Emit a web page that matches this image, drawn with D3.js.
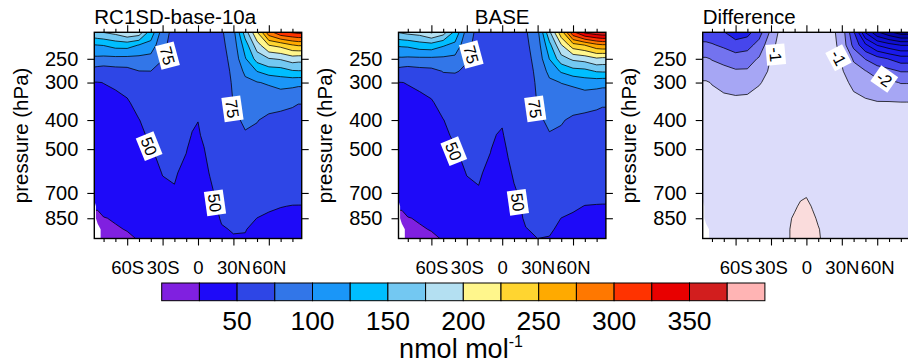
<!DOCTYPE html>
<html>
<head>
<meta charset="utf-8">
<script src="https://cdn.jsdelivr.net/npm/d3@7"></script>
<style>
  body { margin: 0; background: #fff; }
  text { font-family: "Liberation Sans", Arial, Helvetica, sans-serif; fill: #000; }
</style>
</head>
<body>
<svg id="chart" width="908" height="364"></svg>
<script>
// grid: one column per latitude, one value per pressure level (top to bottom)
const lats = [-88, -85, -80, -70, -60, -50, -40, -30, -20, -10, -5, 0, 5, 10, 20, 30, 40, 50, 60, 70, 80, 85, 88];
const levels = [200, 225, 250, 275, 300, 350, 400, 450, 500, 600, 700, 775, 850, 925, 1000];

const rc1sdO3 = [
  [178, 124, 94, 65, 49.3, 45.7, 43, 41, 39, 35, 30, NaN, NaN, NaN, NaN],
  [181, 125, 94, 63, 49.5, 45.7, 43, 41, 39, 35, 30, 26, 23, NaN, NaN],
  [185, 126, 93, 61, 50.2, 45.7, 43, 41, 39, 36, 32, 29, 24.5, 21, 19],
  [192, 134, 93, 65, 52.3, 45.7, 44, 42, 40, 37, 33, 30, 26, 24, 22],
  [210, 135, 92.6, 66.7, 57.1, 47.7, 45, 43, 41, 38, 35, 32, 29, 25.5, 23],
  [204, 124, 92.7, 74.6, 65.1, 56.6, 49.5, 46, 44, 40, 37, 33, 30, 27, 25.5],
  [148, 115, 91, 74.9, 69.3, 61.6, 57, 53, 49, 45, 41, 38, 35, 32, 30],
  [90, 81, 75.3, 72.4, 68.4, 63.6, 60, 57, 55, 50.5, 47, 44, 41, 38, 36],
  [65.5, 64.6, 63.7, 62.7, 61.7, 59.7, 57.7, 55.7, 53.7, 51.2, 49, 45, 42, 40, 38],
  [63.7, 62.7, 61.7, 60.7, 59.7, 57.7, 54.7, 52.5, 50.6, 47, 44, 42, 40, 38, 36],
  [62.7, 61.7, 60.7, 59.7, 57.7, 54.7, 51.5, 49.5, 47, 44, 42, 40, 38, 36, 34],
  [61.7, 60.7, 59.7, 57.7, 55.7, 52.5, 50.2, 48.5, 46, 43, 41, 39, 37, 35, 33],
  [61.7, 60.7, 59.7, 58.7, 57.7, 55.7, 54, 52, 49.5, 47, 44, 42, 40, 38, 36],
  [62.7, 61.7, 60.7, 59.7, 59.7, 57.7, 56.7, 55.5, 54.5, 50.5, 47.5, 46, 44, 42, 40],
  [72.5, 69.6, 67.7, 65.7, 64.7, 62.7, 60.7, 59.7, 58.7, 56.7, 54.7, 52.7, 51.2, 49, 47.5],
  [93.7, 86.9, 82.1, 79.3, 77.4, 75.5, 71.6, 67.7, 65.7, 61.7, 57.7, 55.7, 53.7, 50.8, 49],
  [168, 137.3, 122.5, 105.2, 93.9, 84.3, 77.5, 73.6, 70.6, 65.7, 61.7, 58.7, 55.7, 50.5, 49],
  [231, 188.5, 160, 125.5, 98.5, 85.3, 75.5, 72.6, 69.6, 64.7, 59.7, 56.7, 49.8, 46.8, 44.8],
  [303.5, 225.6, 173.5, 136.5, 103.2, 79.2, 72.5, 69.6, 66.7, 62.7, 57.7, 52.7, 47, 44.8, 42.8],
  [337, 233.5, 177.6, 138.2, 110, 78.2, 71.5, 68.7, 66.7, 62.7, 56.7, 50.5, 46, 44, 42],
  [342.8, 249.2, 187.2, 147.4, 107.8, 76.3, 71.5, 68.7, 66.7, 61.7, 55.7, 49.5, 46, 43, 41],
  [346.3, 253, 184.3, 148.4, 105.8, 75.3, 71.5, 68.7, 66.7, 61.7, 55, 49.5, 45, 42, 40],
  [346.3, 253, 184.3, 148.4, 105.8, 75.3, 71.5, 68.7, 66.7, 61.7, 55, 49.5, 45, 42, 40]
];

const baseO3 = [
  [185, 128, 96, 66, 49.5, 46, 43, 41, 39, 35, 30, NaN, NaN, NaN, NaN],
  [188, 129, 96, 64, 49.8, 46, 43, 41, 39, 35, 30, 26, 23, NaN, NaN],
  [192, 130, 95, 62, 50.5, 46, 43, 41, 39, 36, 32, 29, 24.5, 21, 19],
  [195, 138, 95, 66, 53, 46, 44, 42, 40, 37, 33, 30, 26, 24, 22],
  [215, 140, 95, 68, 58, 48, 45, 43, 41, 38, 35, 32, 29, 25.5, 23],
  [198, 128, 95, 76, 66, 57, 49.5, 46, 44, 40, 37, 33, 30, 27, 25.5],
  [152, 118, 93, 76, 70, 62, 57, 53, 49, 45, 41, 38, 35, 32, 30],
  [92, 82, 76, 73, 69, 64, 60, 57, 55, 50.5, 47, 44, 41, 38, 36],
  [66, 65, 64, 63, 62, 60, 58, 56, 54, 51.5, 49, 45, 42, 40, 38],
  [64, 63, 62, 61, 60, 58, 55, 53, 50.5, 47, 44, 42, 40, 38, 36],
  [63, 62, 61, 60, 58, 55, 52, 49.9, 47, 44, 42, 40, 38, 36, 34],
  [62, 61, 60, 58, 56, 53, 51, 49, 46, 43, 41, 39, 37, 35, 33],
  [62, 61, 60, 59, 58, 56, 55, 53, 51.5, 47, 44, 42, 40, 38, 36],
  [63, 62, 61, 60, 60, 58, 57, 56, 55, 52, 48, 46, 44, 42, 40],
  [73, 70, 68, 66, 65, 63, 61, 60, 59, 57, 55, 53, 52, 49.5, 48],
  [95, 88, 83, 80, 78, 76, 72, 68, 66, 62, 58, 56, 54, 52, 49.8],
  [176, 142, 125.5, 107, 95, 85, 78, 74, 71, 66, 62, 59, 56, 52, 49],
  [251, 198, 165, 128, 100.5, 86, 76, 73, 70, 65, 60, 57, 49.8, 47, 45],
  [335, 240, 180, 140, 105, 80, 73, 70, 67, 63, 58, 53, 47, 45, 43],
  [376, 250.5, 185, 142, 112, 79, 72, 69, 67, 63, 57, 49.5, 46, 44, 42],
  [386, 268, 196, 152, 110, 77, 72, 69, 67, 62, 56, 49, 46, 43, 41],
  [390, 272, 193, 153, 108, 76, 72, 69, 67, 62, 55, 49, 45, 42, 40],
  [390, 272, 193, 153, 108, 76, 72, 69, 67, 62, 55, 49, 45, 42, 40]
];

const diffO3 = [
  [-3.7, -2.8, -1.9, -1.5, -0.9, -0.6, -0.5, -0.4, -0.4, -0.4, -0.4, NaN, NaN, NaN, NaN],
  [-3.7, -2.8, -1.9, -1.5, -0.9, -0.6, -0.5, -0.4, -0.4, -0.4, -0.4, -0.4, -0.4, NaN, NaN],
  [-3.8, -2.9, -2.05, -1.6, -1.05, -0.6, -0.5, -0.4, -0.4, -0.4, -0.4, -0.4, -0.4, -0.4, -0.4],
  [-4.1, -3.2, -2.2, -1.8, -1.3, -0.7, -0.5, -0.5, -0.4, -0.4, -0.4, -0.4, -0.4, -0.4, -0.4],
  [-4.7, -3.6, -2.5, -1.9, -1.5, -0.7, -0.5, -0.5, -0.5, -0.4, -0.4, -0.4, -0.4, -0.4, -0.4],
  [-4.5, -3.4, -2.4, -1.9, -1.4, -0.7, -0.5, -0.5, -0.5, -0.5, -0.4, -0.4, -0.4, -0.4, -0.4],
  [-3.6, -2.6, -1.9, -1.5, -1.05, -0.7, -0.5, -0.5, -0.5, -0.5, -0.5, -0.4, -0.4, -0.4, -0.4],
  [-1.9, -1.3, -0.95, -0.8, -0.8, -0.6, -0.5, -0.5, -0.5, -0.5, -0.5, -0.4, -0.4, -0.4, -0.3],
  [-0.5, -0.5, -0.5, -0.5, -0.5, -0.5, -0.5, -0.5, -0.5, -0.5, -0.4, -0.4, -0.3, -0.3, -0.3],
  [-0.5, -0.5, -0.5, -0.5, -0.5, -0.5, -0.5, -0.5, -0.5, -0.5, -0.4, -0.1, 0.1, 0.2, 0.2],
  [-0.5, -0.5, -0.5, -0.5, -0.5, -0.5, -0.5, -0.5, -0.4, -0.3, -0.15, 0.1, 0.25, 0.3, 0.3],
  [-0.5, -0.5, -0.5, -0.5, -0.5, -0.5, -0.5, -0.5, -0.4, -0.25, -0.1, 0.2, 0.3, 0.3, 0.3],
  [-0.5, -0.5, -0.5, -0.5, -0.5, -0.5, -0.5, -0.5, -0.5, -0.4, -0.3, -0.05, 0.15, 0.25, 0.25],
  [-0.5, -0.5, -0.5, -0.5, -0.5, -0.5, -0.5, -0.5, -0.5, -0.4, -0.4, -0.3, -0.1, 0.05, 0.1],
  [-0.7, -0.6, -0.5, -0.5, -0.5, -0.5, -0.5, -0.5, -0.5, -0.5, -0.5, -0.4, -0.4, -0.4, -0.4],
  [-1.4, -1.3, -1.1, -0.9, -0.8, -0.6, -0.5, -0.5, -0.5, -0.5, -0.5, -0.5, -0.4, -0.4, -0.4],
  [-4.05, -3.3, -2.1, -1.7, -1.15, -0.8, -0.6, -0.5, -0.5, -0.5, -0.5, -0.5, -0.5, -0.4, -0.4],
  [-7.5, -4.8, -3.05, -1.95, -1.5, -0.85, -0.65, -0.5, -0.5, -0.5, -0.5, -0.5, -0.5, -0.4, -0.4],
  [-9.4, -6.05, -3.6, -2.5, -1.7, -0.95, -0.7, -0.6, -0.5, -0.5, -0.5, -0.5, -0.5, -0.4, -0.4],
  [-10.4, -6.6, -4.05, -2.7, -1.8, -0.95, -0.7, -0.6, -0.5, -0.5, -0.5, -0.5, -0.5, -0.4, -0.4],
  [-11.2, -7.05, -4.5, -3.05, -2.05, -0.97, -0.7, -0.6, -0.5, -0.5, -0.5, -0.5, -0.5, -0.4, -0.4],
  [-11.2, -7.05, -4.5, -3.05, -2.05, -0.97, -0.7, -0.6, -0.5, -0.5, -0.5, -0.5, -0.5, -0.4, -0.4],
  [-11.2, -7.05, -4.5, -3.05, -2.05, -0.97, -0.7, -0.6, -0.5, -0.5, -0.5, -0.5, -0.5, -0.4, -0.4]
];

const o3Levels = [25, 50, 75, 100, 125, 150, 175, 200, 225, 250, 275, 300, 325, 350, 375];
const o3Colors = ["#8020E0", "#1E0AF8", "#2E46E6", "#3276E8", "#1A96F8", "#00BEFF", "#73C8F2", "#B4E0F2",
  "#FFF68C", "#FFD530", "#FFAA00", "#FF7800", "#FF3300", "#E80000", "#D21E1E", "#FFB4B4"];
const diffLevels = [-11, -10, -9, -8, -7, -6, -5, -4, -3, -2, -1, 0, 1, 2];
const diffColors = ["#000070", "#00008C", "#0505A5", "#0A0ABE", "#0F0FD2", "#1414E1", "#1A1AEB", "#1E1EE8",
  "#4646EC", "#7373EF", "#A6A6F4", "#DCDCFA", "#FADCDC", "#F5A6A6", "#F07373"];

const rc1sdLabels = [
  {lat: -25.8, p: 244, text: "75", angle: 75}, {lat: 29.2, p: 367, text: "75", angle: 82},
  {lat: -41.4, p: 489, text: "50", angle: 68}, {lat: 14.4, p: 755, text: "50", angle: 82}
];
const baseLabels = [
  {lat: -26.2, p: 242, text: "75", angle: 75}, {lat: 28, p: 367, text: "75", angle: 82},
  {lat: -41, p: 508, text: "50", angle: 68}, {lat: 13.3, p: 752, text: "50", angle: 82}
];
const diffLabels = [
  {lat: -26, p: 242, text: "-1", angle: 85}, {lat: 27.2, p: 248, text: "-1", angle: 62},
  {lat: 66, p: 292, text: "-2", angle: 35}
];

const latTicks = [-60, -30, 0, 30, 60];
const latTickLabels = ["60S", "30S", "0", "30N", "60N"];
const latMinor = [-80, -70, -50, -40, -20, -10, 10, 20, 40, 50, 70, 80];
const pTicks = [250, 300, 400, 500, 700, 850];
const cbLabels = [50, 100, 150, 200, 250, 300, 350];

const svg = d3.select("#chart");
const W = 207.4, TOP = 32.3, H = 206.2;
const panelLeft = [94.3, 398.5, 702.7];
const nx = lats.length, ny = levels.length;

// grid coordinate -> lat / pressure (d3.contours puts sample i at i + 0.5)
const latOf = d3.scaleLinear().domain(lats.map((d, i) => i + 0.5)).range(lats);
const pOf = d3.scaleLinear().domain(levels.map((d, i) => i + 0.5)).range(levels);

// row-major values; a missing cell borrows the next valid value in its row, the mask hides it later
function gridValues(cols) {
  const v = [];
  for (let j = 0; j < ny; j++) {
    for (let i = 0; i < nx; i++) {
      let k = i;
      while (Number.isNaN(cols[k][j])) k++;
      v.push(cols[k][j]);
    }
  }
  return v;
}
function missingMask(cols) {
  const v = [];
  for (let j = 0; j < ny; j++)
    for (let i = 0; i < nx; i++) v.push(Number.isNaN(cols[i][j]) ? 1 : 0);
  return v;
}

const panels = [
  {title: "RC1SD-base-10a", anchor: "start", cols: rc1sdO3, thresholds: o3Levels, colors: o3Colors, labels: rc1sdLabels},
  {title: "BASE", anchor: "middle", cols: baseO3, thresholds: o3Levels, colors: o3Colors, labels: baseLabels},
  {title: "Difference", anchor: "start", cols: diffO3, thresholds: diffLevels, colors: diffColors, labels: diffLabels}
];

panels.forEach((pn, k) => {
  const g = svg.append("g").attr("transform", `translate(${panelLeft[k]},0)`);
  const x = d3.scaleLinear().domain([-87.86, 87.86]).range([0, W]);
  const y = d3.scaleLog().domain([204, 993]).range([TOP, TOP + H]);
  const path = d3.geoPath(d3.geoTransform({
    point(gx, gy) { this.stream.point(x(latOf(gx)), y(pOf(gy))); }
  }));

  g.append("clipPath").attr("id", "clip" + k)
    .append("rect").attr("x", 0).attr("y", TOP).attr("width", W).attr("height", H);
  const field = g.append("g").attr("clip-path", `url(#clip${k})`);

  const contours = d3.contours().size([nx, ny])
    .thresholds([-1e9, ...pn.thresholds])(gridValues(pn.cols));

  field.selectAll("path.band").data(contours).join("path")
    .attr("class", "band")
    .attr("d", path)
    .attr("fill", (d, i) => pn.colors[i])
    .attr("fill-rule", "evenodd");

  field.selectAll("path.iso").data(contours.slice(1)).join("path")
    .attr("class", "iso")
    .attr("d", path)
    .attr("fill", "none")
    .attr("stroke", "#000")
    .attr("stroke-width", 0.75);

  const mask = d3.contours().size([nx, ny]).thresholds([0.5])(missingMask(pn.cols));
  field.append("path").datum(mask[0]).attr("d", path).attr("fill", "#fff");

  // contour labels
  const lab = field.selectAll("g.clabel").data(pn.labels).join("g")
    .attr("class", "clabel")
    .attr("transform", d => `translate(${x(d.lat)},${y(d.p)}) rotate(${d.angle})`);
  lab.append("text")
    .attr("text-anchor", "middle")
    .attr("dy", "0.36em")
    .attr("font-size", 16.5)
    .text(d => d.text);
  lab.each(function() {
    const t = d3.select(this).select("text");
    const w = t.node().getComputedTextLength();
    d3.select(this).insert("rect", "text")
      .attr("x", -w / 2 - 3).attr("y", -9.5)
      .attr("width", w + 6).attr("height", 19)
      .attr("fill", "#fff");
  });

  // axes
  const styleAxis = a => {
    a.select(".domain").remove();
    a.selectAll("line").attr("stroke", "#000").attr("stroke-width", 1.1);
    a.attr("font-family", null);
  };
  g.append("g").attr("transform", `translate(0,${TOP + H})`)
    .call(d3.axisBottom(x).tickValues(latTicks).tickFormat((d, i) => latTickLabels[i]).tickSize(7).tickPadding(15))
    .attr("font-size", 18.5).call(styleAxis);
  g.append("g").attr("transform", `translate(0,${TOP + H})`)
    .call(d3.axisBottom(x).tickValues(latMinor).tickFormat("").tickSize(3.5)).call(styleAxis);
  g.append("g").attr("transform", `translate(0,${TOP})`)
    .call(d3.axisTop(x).tickValues(latTicks).tickFormat("").tickSize(7)).call(styleAxis);
  g.append("g").attr("transform", `translate(0,${TOP})`)
    .call(d3.axisTop(x).tickValues(latMinor).tickFormat("").tickSize(3.5)).call(styleAxis);
  g.append("g")
    .call(d3.axisLeft(y).tickValues(pTicks).tickFormat(d3.format("d")).tickSize(7).tickPadding(9))
    .attr("font-size", 20).call(styleAxis);
  g.append("g").attr("transform", `translate(${W},0)`)
    .call(d3.axisRight(y).tickValues(pTicks).tickFormat("").tickSize(7)).call(styleAxis);

  g.append("rect").attr("x", 0).attr("y", TOP).attr("width", W).attr("height", H)
    .attr("fill", "none").attr("stroke", "#000").attr("stroke-width", 1.4);

  g.append("text")
    .attr("x", pn.anchor === "middle" ? W / 2 : 0).attr("y", 24)
    .attr("text-anchor", pn.anchor)
    .attr("font-size", 20.5)
    .text(pn.title);

  g.append("text")
    .attr("transform", `translate(-66.5,${TOP + H / 2}) rotate(-90)`)
    .attr("text-anchor", "middle")
    .attr("font-size", 20.5)
    .text("pressure (hPa)");
});

// colour bar
const cb = d3.scaleLinear().domain([0, 400]).range([161.7, 764.9]);
const cbEdges = d3.pairs([0, ...o3Levels, 400]);
svg.append("g").selectAll("rect").data(cbEdges).join("rect")
  .attr("x", d => cb(d[0])).attr("y", 283)
  .attr("width", d => cb(d[1]) - cb(d[0])).attr("height", 17.7)
  .attr("fill", (d, i) => o3Colors[i])
  .attr("stroke", "#000").attr("stroke-width", 1);

svg.append("g").selectAll("text").data(cbLabels).join("text")
  .attr("x", d => cb(d)).attr("y", 330)
  .attr("text-anchor", "middle")
  .attr("font-size", 26.5)
  .text(d => d);

const unit = svg.append("text").attr("x", 461).attr("y", 358)
  .attr("text-anchor", "middle").attr("font-size", 27);
unit.append("tspan").text("nmol mol");
unit.append("tspan").attr("dy", -11).attr("font-size", 16).text("-1");
</script>
</body>
</html>
